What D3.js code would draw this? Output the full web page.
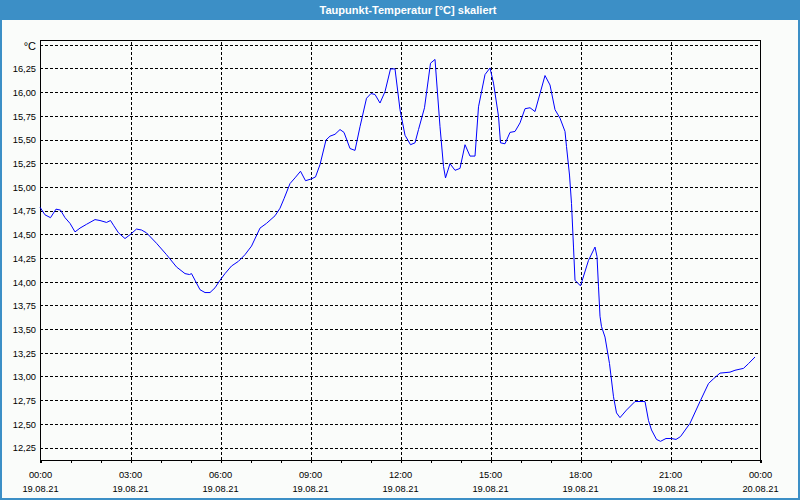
<!DOCTYPE html>
<html>
<head>
<meta charset="utf-8">
<script src="https://cdn.jsdelivr.net/npm/d3@7"></script>
<style>
html,body{margin:0;padding:0;background:#fafcfa;}
svg{display:block;}
text{font-family:"Liberation Sans",Arial,sans-serif;}
</style>
</head>
<body>
<svg id="chart" width="800" height="500"></svg>
<script>
// ---- data ----
const title = "Taupunkt-Temperatur [°C] skaliert";
const unitLabel = "°C";
// minutes since 19.08.21 00:00
const minutes = [0,10,21,32,41,50,60,70,80,93,110,120,133,141,147,157,170,180,193,203,213,233,253,273,290,299,303,310,320,330,340,350,360,370,383,397,410,423,440,453,470,480,488,500,510,521,531,543,551,560,572,580,590,600,608,620,630,640,653,662,670,680,690,701,710,720,730,741,750,757,769,781,790,800,807,811,820,830,840,850,860,870,877,890,900,907,917,921,930,940,950,960,970,980,990,1000,1010,1020,1030,1040,1050,1053,1059,1063,1067,1070,1081,1097,1110,1114,1117,1120,1123,1130,1139,1147,1153,1160,1173,1190,1210,1217,1223,1233,1241,1252,1263,1272,1281,1300,1320,1337,1347,1360,1380,1390,1407,1417,1430];
const dewpoint = [14.78,14.70,14.67,14.76,14.75,14.67,14.61,14.52,14.56,14.60,14.65,14.64,14.62,14.64,14.59,14.51,14.45,14.49,14.55,14.54,14.51,14.40,14.28,14.15,14.08,14.07,14.08,14.01,13.91,13.88,13.88,13.93,14.01,14.08,14.16,14.21,14.28,14.37,14.56,14.61,14.69,14.77,14.87,15.03,15.09,15.16,15.06,15.08,15.10,15.23,15.49,15.53,15.55,15.60,15.57,15.40,15.38,15.63,15.93,15.98,15.97,15.88,16.00,16.24,16.24,15.81,15.54,15.44,15.46,15.60,15.83,16.30,16.34,15.63,15.21,15.09,15.24,15.17,15.19,15.44,15.32,15.32,15.84,16.18,16.25,16.09,15.74,15.46,15.45,15.57,15.58,15.67,15.82,15.83,15.79,15.98,16.17,16.07,15.81,15.72,15.58,15.42,15.12,14.82,14.36,14.01,13.95,14.22,14.36,14.26,13.94,13.63,13.52,13.41,13.13,12.78,12.61,12.56,12.64,12.73,12.73,12.53,12.43,12.33,12.31,12.34,12.34,12.33,12.36,12.50,12.73,12.92,12.97,13.03,13.04,13.06,13.08,13.13,13.20];
const yTicks = [12.25,12.5,12.75,13,13.25,13.5,13.75,14,14.25,14.5,14.75,15,15.25,15.5,15.75,16,16.25,16.5];
const xTicks = [0,180,360,540,720,900,1080,1260,1440];
const xTimeLabels = ["00:00","03:00","06:00","09:00","12:00","15:00","18:00","21:00","00:00"];
const xDateLabels = ["19.08.21","19.08.21","19.08.21","19.08.21","19.08.21","19.08.21","19.08.21","19.08.21","20.08.21"];
const xMinorTicks = d3.range(0, 1441, 60);

// ---- layout ----
const W = 800, H = 500;
const L = 40, R = 760, T = 40, B = 460;
const blue = "#3c8fc6";
const svg = d3.select("#chart");

svg.append("rect").attr("width", W).attr("height", H).attr("fill", "#fafcfa");
// window border
svg.append("rect").attr("x", 1).attr("y", 1).attr("width", W - 2).attr("height", H - 2)
  .attr("fill", "none").attr("stroke", blue).attr("stroke-width", 2);
// title bar
svg.append("rect").attr("x", 0).attr("y", 0).attr("width", W).attr("height", 20).attr("fill", blue);
svg.append("text").attr("x", 408).attr("y", 14).attr("text-anchor", "middle")
  .attr("fill", "#fff").attr("font-size", 11).attr("font-weight", "bold")
  .attr("textLength", 177).attr("lengthAdjust", "spacingAndGlyphs")
  .text(title);

const x = d3.scaleLinear().domain([0, 1440]).range([L, R]);
const y = d3.scaleLinear().domain([12.113, 16.545]).range([B, T]);

const fmt = v => d3.format(".2f")(v).replace(".", ",");

// y axis with gridlines
const yAxis = svg.append("g").attr("transform", `translate(${L},0.5)`)
  .call(d3.axisLeft(y).tickValues(yTicks).tickSize(-(R - L)).tickPadding(4)
    .tickFormat((d, i) => i === yTicks.length - 1 ? unitLabel : fmt(d)));
yAxis.select(".domain").remove();
yAxis.selectAll(".tick line").attr("stroke", "#000").attr("stroke-dasharray", "3,2")
  .attr("shape-rendering", "crispEdges");
yAxis.selectAll(".tick text").attr("fill", "#000").attr("font-size", 9.3)
  .attr("font-family", "Liberation Sans, Arial, sans-serif").attr("dy", "0.36em");
yAxis.selectAll(".tick").filter((d, i) => i === yTicks.length - 1).select("text")
  .attr("font-size", 11).attr("dy", "0.45em");

// x gridlines
const xGrid = svg.append("g").attr("transform", `translate(0.5,${B})`)
  .call(d3.axisBottom(x).tickValues(xTicks.slice(1, -1)).tickSize(-(B - T)).tickFormat(""));
xGrid.select(".domain").remove();
xGrid.selectAll(".tick line").attr("stroke", "#000").attr("stroke-dasharray", "3,2")
  .attr("shape-rendering", "crispEdges");

// minor ticks
const xMinor = svg.append("g").attr("transform", `translate(0.5,${B})`)
  .call(d3.axisBottom(x).tickValues(xMinorTicks).tickSize(3).tickFormat(""));
xMinor.select(".domain").remove();
xMinor.selectAll(".tick line").attr("stroke", "#000").attr("shape-rendering", "crispEdges");

// x labels (two lines)
const xLab = svg.append("g").attr("transform", `translate(0,${B})`)
  .call(d3.axisBottom(x).tickValues(xTicks).tickSize(0).tickPadding(0)
    .tickFormat((d, i) => xTimeLabels[i]));
xLab.select(".domain").remove();
xLab.selectAll(".tick text").attr("fill", "#000").attr("font-size", 9.3)
  .attr("font-family", "Liberation Sans, Arial, sans-serif").attr("dy", null).attr("y", 17.5);
xLab.selectAll(".tick").append("text").attr("fill", "#000").attr("font-size", 9.3)
  .attr("font-family", "Liberation Sans, Arial, sans-serif").attr("text-anchor", "middle")
  .attr("y", 32).text((d, i) => xDateLabels[i]);

// frame
const frame = svg.append("g").attr("stroke", "#000").attr("shape-rendering", "crispEdges");
frame.append("line").attr("x1", L + 0.5).attr("x2", L + 0.5).attr("y1", T).attr("y2", B + 3);
frame.append("line").attr("x1", R + 0.5).attr("x2", R + 0.5).attr("y1", T).attr("y2", B + 3);
frame.append("line").attr("x1", L).attr("x2", R + 1).attr("y1", T + 0.5).attr("y2", T + 0.5);
frame.append("line").attr("x1", L).attr("x2", R + 1).attr("y1", B + 0.5).attr("y2", B + 0.5);

// data line
const data = minutes.map((m, i) => ({m, v: dewpoint[i]}));
svg.append("path").datum(data)
  .attr("fill", "none").attr("stroke", "#0000ff").attr("stroke-width", 1)
  .attr("d", d3.line().x(d => x(d.m)).y(d => y(d.v)));
</script>
</body>
</html>
